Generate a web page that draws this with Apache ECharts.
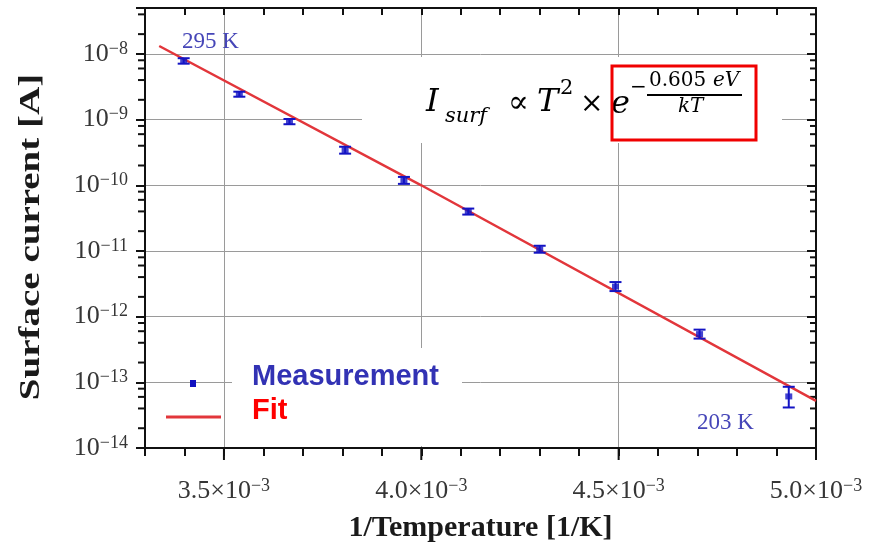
<!DOCTYPE html>
<html>
<head>
<meta charset="utf-8">
<script src="https://cdn.jsdelivr.net/npm/echarts@6/dist/echarts.min.js"></script>
<style>
html,body{margin:0;padding:0;background:#fff;}
#main{width:883px;height:548px;}
</style>
</head>
<body>
<div id="main"></div>
<script>
// measured points: 1/T [1/K] and surface current [A]
var invT = [3.398e-3, 3.539e-3, 3.666e-3, 3.807e-3, 3.956e-3, 4.119e-3, 4.300e-3, 4.492e-3, 4.705e-3, 4.931e-3];
var current = [7.8e-9, 2.44e-9, 9.3e-10, 3.42e-10, 1.19e-10, 3.98e-11, 1.06e-11, 2.87e-12, 5.42e-13, 6.1e-14];
var errLow = [7.1e-9, 2.23e-9, 8.5e-10, 3.03e-10, 1.05e-10, 3.58e-11, 9.4e-12, 2.45e-12, 4.63e-13, 4.14e-14];
var errHigh = [8.6e-9, 2.66e-9, 1.02e-9, 3.86e-10, 1.34e-10, 4.42e-11, 1.2e-11, 3.36e-12, 6.34e-13, 8.55e-14];
// fit line
var fitX = [3.336e-3, 4.0e-3, 5.0e-3];
var fitY = [1.32e-8, 1.0e-10, 5.2e-14];
// axes
var xMin = 3.3e-3, xMax = 5.0e-3, xStep = 0.1e-3, xMajor = 0.5e-3;
var xMajorTicks = [3.5e-3, 4.0e-3, 4.5e-3, 5.0e-3];
var yMin = 1e-14, yMax = 5e-8;
var minorMant = [2, 4, 6, 8];
var decades = [-14, -13, -12, -11, -10, -9, -8];

var blue = '#1414c4';
var red = '#e2363b';
var serif = 'Liberation Serif';

var minorVals = [];
decades.forEach(function (d) {
    minorMant.forEach(function (m) {
        var v = m * Math.pow(10, d);
        if (v < yMax) minorVals.push([xMin, v]);
    });
});

var myChart = echarts.init(document.getElementById('main'));

function yLabel(v) {
    var e = Math.log10(v);
    var r = Math.round(e);
    if (Math.abs(e - r) > 1e-6) return '';
    return '{b|10}{s|\u2212' + (-r) + '}';
}
function xLabel(v) {
    var k = v / xMajor;
    if (Math.abs(k - Math.round(k)) > 1e-6) return '';
    return '{b|' + (v * 1000).toFixed(1) + '\u00d710}{s|\u22123}';
}
var labelRich = {
    b: {fontFamily: serif, fontSize: 26, color: '#363636'},
    s: {fontFamily: serif, fontSize: 18, color: '#363636', verticalAlign: 'top', padding: [0, 0, 10, 0]}
};

var option = {
    animation: false,
    grid: {left: 145, right: 67, top: 8, bottom: 100, containLabel: false},
    xAxis: [{
        type: 'value', min: xMin, max: xMax, interval: xStep,
        axisLine: {onZero: false, lineStyle: {color: '#111', width: 2}},
        axisTick: {inside: false, length: 8, lineStyle: {color: '#111', width: 2}},
        axisLabel: {formatter: xLabel, margin: 29, rich: labelRich, showMinLabel: true},
        splitLine: {show: true, lineStyle: {color: ['transparent', 'transparent', '#9a9a9a', 'transparent', 'transparent'], width: 1}},
        name: '1/Temperature [1/K]', nameLocation: 'middle', nameGap: 65,
        nameTextStyle: {fontFamily: serif, fontWeight: 'bold', fontSize: 30, color: '#1a1a1a'}
    }, {
        type: 'value', position: 'top', min: xMin, max: xMax, interval: xStep,
        axisLine: {onZero: false, lineStyle: {color: '#111', width: 2}},
        axisTick: {inside: true, length: 7, lineStyle: {color: '#111', width: 2}},
        axisLabel: {show: false}, splitLine: {show: false}
    }],
    yAxis: [{
        type: 'log', min: yMin, max: yMax, logBase: 10,
        axisLine: {onZero: false, lineStyle: {color: '#111', width: 2}},
        axisTick: {inside: false, length: 9, lineStyle: {color: '#111', width: 2}},
        axisLabel: {formatter: yLabel, margin: 17, rich: labelRich},
        splitLine: {show: true, lineStyle: {color: '#9a9a9a', width: 1}}
    }, {
        type: 'log', position: 'right', min: yMin, max: yMax, logBase: 10,
        axisLine: {onZero: false, lineStyle: {color: '#111', width: 2}},
        axisTick: {inside: true, length: 9, lineStyle: {color: '#111', width: 2}},
        axisLabel: {show: false}, splitLine: {show: false}
    }],
    graphic: [
        // white panels behind the formula and the legend (they hide the grid)
        {type: 'rect', z: 1, shape: {x: 362, y: 57, width: 420, height: 86}, style: {fill: '#fff'}},
        {type: 'rect', z: 1, shape: {x: 232, y: 348, width: 230, height: 98}, style: {fill: '#fff'}},
        // formula
        {type: 'text', z: 10, x: 426, y: 119, style: {text: 'I', font: 'italic 32px DejaVu Serif', fill: '#000', verticalAlign: 'bottom'}},
        {type: 'text', z: 10, x: 445, y: 127, style: {text: 'surf', font: 'italic 21px DejaVu Serif', fill: '#000', verticalAlign: 'bottom'}},
        {type: 'text', z: 10, x: 508, y: 119, style: {text: '\u221d', font: '31px DejaVu Serif', fill: '#000', verticalAlign: 'bottom'}},
        {type: 'text', z: 10, x: 537, y: 119, style: {text: 'T', font: 'italic 32px DejaVu Serif', fill: '#000', verticalAlign: 'bottom'}},
        {type: 'text', z: 10, x: 560, y: 99, style: {text: '2', font: '21px DejaVu Serif', fill: '#000', verticalAlign: 'bottom'}},
        {type: 'text', z: 10, x: 580, y: 119, style: {text: '\u00d7', font: '28px DejaVu Serif', fill: '#000', verticalAlign: 'bottom'}},
        {type: 'text', z: 10, x: 611, y: 121, style: {text: 'e', font: 'italic 32px DejaVu Serif', fill: '#000', verticalAlign: 'bottom'}},
        {type: 'text', z: 10, x: 630, y: 98, style: {text: '\u2212', font: '20px DejaVu Serif', fill: '#000', verticalAlign: 'bottom'}},
        {type: 'text', z: 10, x: 649, y: 91, style: {text: '0.605 ', font: '20px DejaVu Serif', fill: '#000', verticalAlign: 'bottom'}},
        {type: 'text', z: 10, x: 713, y: 91, style: {text: 'eV', font: 'italic 20px DejaVu Serif', fill: '#000', verticalAlign: 'bottom'}},
        {type: 'rect', z: 10, shape: {x: 647, y: 94, width: 95, height: 2}, style: {fill: '#000'}},
        {type: 'text', z: 10, x: 678, y: 117, style: {text: 'kT', font: 'italic 20px DejaVu Serif', fill: '#000', verticalAlign: 'bottom'}},
        {type: 'rect', z: 10, shape: {x: 612, y: 66, width: 144, height: 74}, style: {fill: 'none', stroke: '#f00000', lineWidth: 3}},
        // legend
        {type: 'rect', z: 10, shape: {x: 190, y: 380, width: 6, height: 7}, style: {fill: '#1010c0'}},
        {type: 'line', z: 10, shape: {x1: 166, y1: 417, x2: 221, y2: 417}, style: {stroke: red, lineWidth: 3}},
        {type: 'text', z: 10, x: 252, y: 377, style: {text: 'Measurement', font: 'bold 29px Liberation Sans', fill: '#3232b4', verticalAlign: 'middle'}},
        {type: 'text', z: 10, x: 252, y: 411, style: {text: 'Fit', font: 'bold 29px Liberation Sans', fill: '#ff0000', verticalAlign: 'middle'}},
        // temperatures
        {type: 'text', z: 10, x: 182, y: 42, style: {text: '295 K', font: '23px Liberation Serif', fill: '#4646b8', verticalAlign: 'middle'}},
        {type: 'text', z: 10, x: 697, y: 423, style: {text: '203 K', font: '23px Liberation Serif', fill: '#4646b8', verticalAlign: 'middle'}},
        // y axis name
        {type: 'text', z: 10, x: 31, y: 237, rotation: Math.PI / 2, scaleX: 1.3,
         style: {text: 'Surface current [A]', font: 'bold 30px Liberation Serif', fill: '#1a1a1a', align: 'center', verticalAlign: 'middle'}}
    ],
    series: [{
        type: 'custom',
        name: 'y minor ticks',
        silent: true,
        clip: false,
        z: 3,
        data: minorVals,
        encode: {x: 0, y: 1},
        renderItem: function (params, api) {
            var l = api.coord([xMin, api.value(1)]);
            var r = api.coord([xMax, api.value(1)]);
            var st = {stroke: '#111', lineWidth: 2};
            return {type: 'group', children: [
                {type: 'line', shape: {x1: l[0] - 7, y1: l[1], x2: l[0], y2: l[1]}, style: st},
                {type: 'line', shape: {x1: r[0] - 6, y1: r[1], x2: r[0], y2: r[1]}, style: st}
            ]};
        }
    }, {
        type: 'custom',
        name: 'x major ticks',
        silent: true,
        clip: false,
        z: 3,
        data: xMajorTicks.map(function (x) { return [x, yMin]; }),
        encode: {x: 0, y: 1},
        renderItem: function (params, api) {
            var p = api.coord([api.value(0), yMin]);
            return {type: 'line', shape: {x1: p[0], y1: p[1], x2: p[0], y2: p[1] + 12},
                style: {stroke: '#111', lineWidth: 2}};
        }
    }, {
        type: 'line',
        name: 'Fit',
        z: 4,
        data: fitX.map(function (x, i) { return [x, fitY[i]]; }),
        showSymbol: false,
        lineStyle: {color: red, width: 2.5}
    }, {
        type: 'custom',
        name: 'Error',
        z: 5,
        data: invT.map(function (x, i) { return [x, errLow[i], errHigh[i]]; }),
        encode: {x: 0, y: [1, 2]},
        renderItem: function (params, api) {
            var lo = api.coord([api.value(0), api.value(1)]);
            var hi = api.coord([api.value(0), api.value(2)]);
            var w = 6;
            var st = {stroke: blue, lineWidth: 2};
            return {type: 'group', children: [
                {type: 'line', shape: {x1: lo[0], y1: lo[1], x2: hi[0], y2: hi[1]}, style: st},
                {type: 'line', shape: {x1: lo[0] - w, y1: lo[1], x2: lo[0] + w, y2: lo[1]}, style: st},
                {type: 'line', shape: {x1: hi[0] - w, y1: hi[1], x2: hi[0] + w, y2: hi[1]}, style: st}
            ]};
        }
    }, {
        type: 'scatter',
        name: 'Measurement',
        z: 6,
        data: invT.map(function (x, i) { return [x, current[i]]; }),
        symbol: 'rect',
        symbolSize: [7, 6],
        itemStyle: {color: blue}
    }]
};

myChart.setOption(option);
</script>
</body>
</html>
